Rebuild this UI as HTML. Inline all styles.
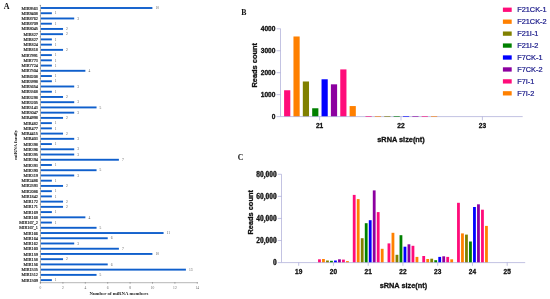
<!DOCTYPE html><html><head><meta charset="utf-8"><title>figure</title><style>html,body{margin:0;padding:0;background:#fff}svg{display:block}text{font-family:"Liberation Serif",serif}.s{font-family:"Liberation Sans",sans-serif}.k{stroke:#111;stroke-width:.3px;stroke-linejoin:round}</style></head><body>
<svg width="550" height="299" viewBox="0 0 550 299">
<rect width="550" height="299" fill="#fff"/>
<text x="3.7" y="8.6" font-size="8" font-weight="bold" fill="#111">A</text>
<g fill="#0f5fcc">
<rect x="40.70" y="7.05" width="111.70" height="1.9"/>
<rect x="40.70" y="12.28" width="11.17" height="1.9"/>
<rect x="40.70" y="17.52" width="33.51" height="1.9"/>
<rect x="40.70" y="22.75" width="11.17" height="1.9"/>
<rect x="40.70" y="27.98" width="22.34" height="1.9"/>
<rect x="40.70" y="33.21" width="22.34" height="1.9"/>
<rect x="40.70" y="38.45" width="11.17" height="1.9"/>
<rect x="40.70" y="43.68" width="11.17" height="1.9"/>
<rect x="40.70" y="48.91" width="22.34" height="1.9"/>
<rect x="40.70" y="54.15" width="11.17" height="1.9"/>
<rect x="40.70" y="59.38" width="11.17" height="1.9"/>
<rect x="40.70" y="64.61" width="11.17" height="1.9"/>
<rect x="40.70" y="69.85" width="44.68" height="1.9"/>
<rect x="40.70" y="75.08" width="11.17" height="1.9"/>
<rect x="40.70" y="80.31" width="11.17" height="1.9"/>
<rect x="40.70" y="85.54" width="33.51" height="1.9"/>
<rect x="40.70" y="90.78" width="11.17" height="1.9"/>
<rect x="40.70" y="96.01" width="22.34" height="1.9"/>
<rect x="40.70" y="101.24" width="33.51" height="1.9"/>
<rect x="40.70" y="106.48" width="55.85" height="1.9"/>
<rect x="40.70" y="111.71" width="33.51" height="1.9"/>
<rect x="40.70" y="116.94" width="22.34" height="1.9"/>
<rect x="40.70" y="122.18" width="11.17" height="1.9"/>
<rect x="40.70" y="127.41" width="11.17" height="1.9"/>
<rect x="40.70" y="132.64" width="22.34" height="1.9"/>
<rect x="40.70" y="137.88" width="33.51" height="1.9"/>
<rect x="40.70" y="143.11" width="11.17" height="1.9"/>
<rect x="40.70" y="148.34" width="33.51" height="1.9"/>
<rect x="40.70" y="153.57" width="33.51" height="1.9"/>
<rect x="40.70" y="158.81" width="78.19" height="1.9"/>
<rect x="40.70" y="164.04" width="11.17" height="1.9"/>
<rect x="40.70" y="169.27" width="55.85" height="1.9"/>
<rect x="40.70" y="174.51" width="33.51" height="1.9"/>
<rect x="40.70" y="179.74" width="11.17" height="1.9"/>
<rect x="40.70" y="184.97" width="22.34" height="1.9"/>
<rect x="40.70" y="190.21" width="11.17" height="1.9"/>
<rect x="40.70" y="195.44" width="11.17" height="1.9"/>
<rect x="40.70" y="200.67" width="22.34" height="1.9"/>
<rect x="40.70" y="205.90" width="22.34" height="1.9"/>
<rect x="40.70" y="211.14" width="11.17" height="1.9"/>
<rect x="40.70" y="216.37" width="44.68" height="1.9"/>
<rect x="40.70" y="221.60" width="11.17" height="1.9"/>
<rect x="40.70" y="226.84" width="55.85" height="1.9"/>
<rect x="40.70" y="232.07" width="122.87" height="1.9"/>
<rect x="40.70" y="237.30" width="67.02" height="1.9"/>
<rect x="40.70" y="242.53" width="33.51" height="1.9"/>
<rect x="40.70" y="247.77" width="78.19" height="1.9"/>
<rect x="40.70" y="253.00" width="111.70" height="1.9"/>
<rect x="40.70" y="258.23" width="22.34" height="1.9"/>
<rect x="40.70" y="263.47" width="67.02" height="1.9"/>
<rect x="40.70" y="268.70" width="145.21" height="1.9"/>
<rect x="40.70" y="273.93" width="55.85" height="1.9"/>
<rect x="40.70" y="279.17" width="11.17" height="1.9"/>
</g>
<g font-size="4.25" fill="#222" stroke="#222" stroke-width=".16" text-anchor="end">
<text x="38.0" y="9.55">MIR9563</text>
<text x="38.0" y="14.78">MIR9408</text>
<text x="38.0" y="20.02">MIR8762</text>
<text x="38.0" y="25.25">MIR8709</text>
<text x="38.0" y="30.48">MIR8045</text>
<text x="38.0" y="35.71">MIR827</text>
<text x="38.0" y="40.95">MIR827</text>
<text x="38.0" y="46.18">MIR824</text>
<text x="38.0" y="51.41">MIR818</text>
<text x="38.0" y="56.65">MIR7991</text>
<text x="38.0" y="61.88">MIR773</text>
<text x="38.0" y="67.11">MIR7724</text>
<text x="38.0" y="72.35">MIR7504</text>
<text x="38.0" y="77.58">MIR6208</text>
<text x="38.0" y="82.81">MIR5998</text>
<text x="38.0" y="88.04">MIR5654</text>
<text x="38.0" y="93.28">MIR5568</text>
<text x="38.0" y="98.51">MIR5298</text>
<text x="38.0" y="103.74">MIR5205</text>
<text x="38.0" y="108.98">MIR5143</text>
<text x="38.0" y="114.21">MIR5047</text>
<text x="38.0" y="119.44">MIR4998</text>
<text x="38.0" y="124.68">MIR482</text>
<text x="38.0" y="129.91">MIR477</text>
<text x="38.0" y="135.14">MIR4415</text>
<text x="38.0" y="140.38">MIR403</text>
<text x="38.0" y="145.61">MIR398</text>
<text x="38.0" y="150.84">MIR396</text>
<text x="38.0" y="156.07">MIR395</text>
<text x="38.0" y="161.31">MIR394</text>
<text x="38.0" y="166.54">MIR393</text>
<text x="38.0" y="171.77">MIR390</text>
<text x="38.0" y="177.01">MIR319</text>
<text x="38.0" y="182.24">MIR2486</text>
<text x="38.0" y="187.47">MIR2593</text>
<text x="38.0" y="192.71">MIR2086</text>
<text x="38.0" y="197.94">MIR1842</text>
<text x="38.0" y="203.17">MIR172</text>
<text x="38.0" y="208.40">MIR171</text>
<text x="38.0" y="213.64">MIR169</text>
<text x="38.0" y="218.87">MIR168</text>
<text x="38.0" y="224.10">MIR167_2</text>
<text x="38.0" y="229.34">MIR167_1</text>
<text x="38.0" y="234.57">MIR166</text>
<text x="38.0" y="239.80">MIR164</text>
<text x="38.0" y="245.03">MIR162</text>
<text x="38.0" y="250.27">MIR160</text>
<text x="38.0" y="255.50">MIR159</text>
<text x="38.0" y="260.73">MIR158</text>
<text x="38.0" y="265.97">MIR156</text>
<text x="38.0" y="271.20">MIR1535</text>
<text x="38.0" y="276.43">MIR1512</text>
<text x="38.0" y="281.67">MIR1509</text>
</g>
<g font-size="3.6" fill="#5a5a5a">
<text x="155.40" y="9.20">10</text>
<text x="54.87" y="14.43">1</text>
<text x="77.21" y="19.67">3</text>
<text x="54.87" y="24.90">1</text>
<text x="66.04" y="30.13">2</text>
<text x="66.04" y="35.37">2</text>
<text x="54.87" y="40.60">1</text>
<text x="54.87" y="45.83">1</text>
<text x="66.04" y="51.06">2</text>
<text x="54.87" y="56.30">1</text>
<text x="54.87" y="61.53">1</text>
<text x="54.87" y="66.76">1</text>
<text x="88.38" y="72.00">4</text>
<text x="54.87" y="77.23">1</text>
<text x="54.87" y="82.46">1</text>
<text x="77.21" y="87.69">3</text>
<text x="54.87" y="92.93">1</text>
<text x="66.04" y="98.16">2</text>
<text x="77.21" y="103.39">3</text>
<text x="99.55" y="108.63">5</text>
<text x="77.21" y="113.86">3</text>
<text x="66.04" y="119.09">2</text>
<text x="54.87" y="124.33">1</text>
<text x="54.87" y="129.56">1</text>
<text x="66.04" y="134.79">2</text>
<text x="77.21" y="140.02">3</text>
<text x="54.87" y="145.26">1</text>
<text x="77.21" y="150.49">3</text>
<text x="77.21" y="155.72">3</text>
<text x="121.89" y="160.96">7</text>
<text x="54.87" y="166.19">1</text>
<text x="99.55" y="171.42">5</text>
<text x="77.21" y="176.66">3</text>
<text x="54.87" y="181.89">1</text>
<text x="66.04" y="187.12">2</text>
<text x="54.87" y="192.35">1</text>
<text x="54.87" y="197.59">1</text>
<text x="66.04" y="202.82">2</text>
<text x="66.04" y="208.05">2</text>
<text x="54.87" y="213.29">1</text>
<text x="88.38" y="218.52">4</text>
<text x="54.87" y="223.75">1</text>
<text x="99.55" y="228.99">5</text>
<text x="166.57" y="234.22">11</text>
<text x="110.72" y="239.45">6</text>
<text x="77.21" y="244.68">3</text>
<text x="121.89" y="249.92">7</text>
<text x="155.40" y="255.15">10</text>
<text x="66.04" y="260.38">2</text>
<text x="110.72" y="265.62">6</text>
<text x="188.91" y="270.85">13</text>
<text x="99.55" y="276.08">5</text>
<text x="54.87" y="281.32">1</text>
</g>
<g stroke="#7c7c7c" stroke-width="0.65" fill="none">
<path d="M40.5 5 V282.7 H197.7" stroke="#909090"/>
<path d="M39.6 5.38H41M39.6 10.62H41M39.6 15.85H41M39.6 21.08H41M39.6 26.32H41M39.6 31.55H41M39.6 36.78H41M39.6 42.01H41M39.6 47.25H41M39.6 52.48H41M39.6 57.71H41M39.6 62.95H41M39.6 68.18H41M39.6 73.41H41M39.6 78.65H41M39.6 83.88H41M39.6 89.11H41M39.6 94.34H41M39.6 99.58H41M39.6 104.81H41M39.6 110.04H41M39.6 115.28H41M39.6 120.51H41M39.6 125.74H41M39.6 130.98H41M39.6 136.21H41M39.6 141.44H41M39.6 146.67H41M39.6 151.91H41M39.6 157.14H41M39.6 162.37H41M39.6 167.61H41M39.6 172.84H41M39.6 178.07H41M39.6 183.31H41M39.6 188.54H41M39.6 193.77H41M39.6 199.00H41M39.6 204.24H41M39.6 209.47H41M39.6 214.70H41M39.6 219.94H41M39.6 225.17H41M39.6 230.40H41M39.6 235.64H41M39.6 240.87H41M39.6 246.10H41M39.6 251.33H41M39.6 256.57H41M39.6 261.80H41M39.6 267.03H41M39.6 272.27H41M39.6 277.50H41M39.6 282.73H41"/>
<path d="M40.50 282.1V283.7M62.90 282.1V283.7M85.30 282.1V283.7M107.70 282.1V283.7M130.10 282.1V283.7M152.50 282.1V283.7M174.90 282.1V283.7M197.30 282.1V283.7"/>
</g>
<g font-size="3.6" fill="#666" text-anchor="middle">
<text x="40.50" y="289.0">0</text>
<text x="62.90" y="289.0">2</text>
<text x="85.30" y="289.0">4</text>
<text x="107.70" y="289.0">6</text>
<text x="130.10" y="289.0">8</text>
<text x="152.50" y="289.0">10</text>
<text x="174.90" y="289.0">12</text>
<text x="197.30" y="289.0">14</text>
</g>
<text x="118.9" y="295" font-size="4.8" font-weight="bold" fill="#222" text-anchor="middle">Number of miRNA members</text>
<text transform="translate(17.4 144.8) rotate(-90)" font-size="4.8" font-weight="bold" fill="#222" text-anchor="middle">miRNA family</text>
<text x="241.2" y="15.2" font-size="7.8" font-weight="bold" fill="#111">B</text>
<rect x="284.10" y="90.26" width="6.2" height="26.34" fill="#ff0c7a"/>
<rect x="293.46" y="36.48" width="6.2" height="80.12" fill="#ff8000"/>
<rect x="302.82" y="81.48" width="6.2" height="35.12" fill="#808000"/>
<rect x="312.18" y="108.26" width="6.2" height="8.34" fill="#008000"/>
<rect x="321.54" y="79.28" width="6.2" height="37.32" fill="#0000ff"/>
<rect x="330.90" y="84.33" width="6.2" height="32.27" fill="#8c00a0"/>
<rect x="340.26" y="69.41" width="6.2" height="47.19" fill="#ff0c7a"/>
<rect x="349.62" y="106.06" width="6.2" height="10.54" fill="#ff8000"/>
<g stroke="#a9a9d6" stroke-width="0.7" fill="none">
<path d="M280.5 28.6V116.6H522.7"/>
<path d="M276.6 116.60H280.5M276.6 94.65H280.5M276.6 72.70H280.5M276.6 50.75H280.5M276.6 28.80H280.5M319.60 116.6V120.39999999999999M401.00 116.6V120.39999999999999M482.40 116.6V120.39999999999999"/>
</g>
<rect x="365.50" y="116.00" width="6.2" height="0.8" fill="#ff0c7a" opacity="0.7"/>
<rect x="374.86" y="116.00" width="6.2" height="0.8" fill="#ff8000" opacity="0.7"/>
<rect x="384.22" y="116.00" width="6.2" height="0.8" fill="#808000" opacity="0.7"/>
<rect x="393.58" y="116.00" width="6.2" height="0.8" fill="#008000" opacity="0.7"/>
<rect x="402.94" y="116.00" width="6.2" height="0.8" fill="#0000ff" opacity="0.7"/>
<rect x="412.30" y="116.00" width="6.2" height="0.8" fill="#8c00a0" opacity="0.7"/>
<rect x="421.66" y="116.00" width="6.2" height="0.8" fill="#ff0c7a" opacity="0.7"/>
<rect x="431.02" y="116.00" width="6.2" height="0.8" fill="#ff8000" opacity="0.7"/>
<g class="s k" font-size="6.6" font-weight="bold" fill="#111">
<text class="s" x="275.4" y="119.00" text-anchor="end">0</text>
<text class="s" x="275.4" y="97.05" text-anchor="end">1000</text>
<text class="s" x="275.4" y="75.10" text-anchor="end">2000</text>
<text class="s" x="275.4" y="53.15" text-anchor="end">3000</text>
<text class="s" x="275.4" y="31.20" text-anchor="end">4000</text>
<text class="s" x="319.60" y="127.9" text-anchor="middle">21</text>
<text class="s" x="401.00" y="127.9" text-anchor="middle">22</text>
<text class="s" x="482.40" y="127.9" text-anchor="middle">23</text>
</g>
<text class="s k" x="401.0" y="142.3" font-size="7.35" font-weight="bold" fill="#111" text-anchor="middle">sRNA size(nt)</text>
<text class="s k" transform="translate(257.0 65.3) rotate(-90)" font-size="7.45" font-weight="bold" fill="#111" text-anchor="middle">Reads count</text>
<rect x="502.9" y="7.60" width="8.8" height="4.3" fill="#ff0c7a"/>
<text class="s" x="517.2" y="12.45" font-size="7.35" fill="#1a1a8a" stroke="#1a1a8a" stroke-width=".22">F21CK-1</text>
<rect x="502.9" y="19.54" width="8.8" height="4.3" fill="#ff8000"/>
<text class="s" x="517.2" y="24.39" font-size="7.35" fill="#1a1a8a" stroke="#1a1a8a" stroke-width=".22">F21CK-2</text>
<rect x="502.9" y="31.48" width="8.8" height="4.3" fill="#808000"/>
<text class="s" x="517.2" y="36.33" font-size="7.35" fill="#1a1a8a" stroke="#1a1a8a" stroke-width=".22">F21I-1</text>
<rect x="502.9" y="43.42" width="8.8" height="4.3" fill="#008000"/>
<text class="s" x="517.2" y="48.27" font-size="7.35" fill="#1a1a8a" stroke="#1a1a8a" stroke-width=".22">F21I-2</text>
<rect x="502.9" y="55.36" width="8.8" height="4.3" fill="#0000ff"/>
<text class="s" x="517.2" y="60.21" font-size="7.35" fill="#1a1a8a" stroke="#1a1a8a" stroke-width=".22">F7CK-1</text>
<rect x="502.9" y="67.30" width="8.8" height="4.3" fill="#8c00a0"/>
<text class="s" x="517.2" y="72.15" font-size="7.35" fill="#1a1a8a" stroke="#1a1a8a" stroke-width=".22">F7CK-2</text>
<rect x="502.9" y="79.24" width="8.8" height="4.3" fill="#ff0c7a"/>
<text class="s" x="517.2" y="84.09" font-size="7.35" fill="#1a1a8a" stroke="#1a1a8a" stroke-width=".22">F7I-1</text>
<rect x="502.9" y="91.18" width="8.8" height="4.3" fill="#ff8000"/>
<text class="s" x="517.2" y="96.03" font-size="7.35" fill="#1a1a8a" stroke="#1a1a8a" stroke-width=".22">F7I-2</text>
<text x="237.7" y="160.2" font-size="7.8" font-weight="bold" fill="#111">C</text>
<rect x="318.05" y="259.30" width="2.8" height="3.30" fill="#ff0c7a"/>
<rect x="322.05" y="259.00" width="2.8" height="3.60" fill="#ff8000"/>
<rect x="326.05" y="260.50" width="2.8" height="2.10" fill="#808000"/>
<rect x="330.05" y="260.80" width="2.8" height="1.80" fill="#008000"/>
<rect x="334.05" y="260.50" width="2.8" height="2.10" fill="#0000ff"/>
<rect x="338.05" y="259.30" width="2.8" height="3.30" fill="#8c00a0"/>
<rect x="342.05" y="259.60" width="2.8" height="3.00" fill="#ff0c7a"/>
<rect x="346.05" y="261.10" width="2.8" height="1.50" fill="#ff8000"/>
<rect x="352.80" y="194.90" width="2.8" height="67.70" fill="#ff0c7a"/>
<rect x="356.80" y="199.10" width="2.8" height="63.50" fill="#ff8000"/>
<rect x="360.80" y="238.20" width="2.8" height="24.40" fill="#808000"/>
<rect x="364.80" y="223.20" width="2.8" height="39.40" fill="#008000"/>
<rect x="368.80" y="220.20" width="2.8" height="42.40" fill="#0000ff"/>
<rect x="372.80" y="190.40" width="2.8" height="72.20" fill="#8c00a0"/>
<rect x="376.80" y="212.10" width="2.8" height="50.50" fill="#ff0c7a"/>
<rect x="380.80" y="248.80" width="2.8" height="13.80" fill="#ff8000"/>
<rect x="387.55" y="243.40" width="2.8" height="19.20" fill="#ff0c7a"/>
<rect x="391.55" y="232.80" width="2.8" height="29.80" fill="#ff8000"/>
<rect x="395.55" y="254.80" width="2.8" height="7.80" fill="#808000"/>
<rect x="399.55" y="235.20" width="2.8" height="27.40" fill="#008000"/>
<rect x="403.55" y="246.70" width="2.8" height="15.90" fill="#0000ff"/>
<rect x="407.55" y="244.30" width="2.8" height="18.30" fill="#8c00a0"/>
<rect x="411.55" y="245.80" width="2.8" height="16.80" fill="#ff0c7a"/>
<rect x="415.55" y="256.90" width="2.8" height="5.70" fill="#ff8000"/>
<rect x="422.30" y="256.00" width="2.8" height="6.60" fill="#ff0c7a"/>
<rect x="426.30" y="259.00" width="2.8" height="3.60" fill="#ff8000"/>
<rect x="430.30" y="258.70" width="2.8" height="3.90" fill="#808000"/>
<rect x="434.30" y="260.20" width="2.8" height="2.40" fill="#008000"/>
<rect x="438.30" y="256.90" width="2.8" height="5.70" fill="#0000ff"/>
<rect x="442.30" y="256.30" width="2.8" height="6.30" fill="#8c00a0"/>
<rect x="446.30" y="256.90" width="2.8" height="5.70" fill="#ff0c7a"/>
<rect x="450.30" y="259.30" width="2.8" height="3.30" fill="#ff8000"/>
<rect x="457.05" y="202.80" width="2.8" height="59.80" fill="#ff0c7a"/>
<rect x="461.05" y="233.40" width="2.8" height="29.20" fill="#ff8000"/>
<rect x="465.05" y="234.60" width="2.8" height="28.00" fill="#808000"/>
<rect x="469.05" y="241.50" width="2.8" height="21.10" fill="#008000"/>
<rect x="473.05" y="207.00" width="2.8" height="55.60" fill="#0000ff"/>
<rect x="477.05" y="204.30" width="2.8" height="58.30" fill="#8c00a0"/>
<rect x="481.05" y="209.70" width="2.8" height="52.90" fill="#ff0c7a"/>
<rect x="485.05" y="225.90" width="2.8" height="36.70" fill="#ff8000"/>
<g stroke="#a9a9d6" stroke-width="0.7" fill="none">
<path d="M281.5 174.3V262.6H525.2"/>
<path d="M277.8 262.60H281.5M277.8 240.52H281.5M277.8 218.44H281.5M277.8 196.36H281.5M277.8 174.28H281.5M298.70 262.6V265.8M333.45 262.6V265.8M368.20 262.6V265.8M402.95 262.6V265.8M437.70 262.6V265.8M472.45 262.6V265.8M507.20 262.6V265.8"/>
</g>
<g class="k" font-size="7.4" font-weight="bold" fill="#111" text-anchor="end">
<text x="276.6" y="264.90">0</text>
<text x="276.6" y="242.82">20,000</text>
<text x="276.6" y="220.74">40,000</text>
<text x="276.6" y="198.66">60,000</text>
<text x="276.6" y="176.58">80,000</text>
</g>
<g class="k" font-size="6.5" font-weight="bold" fill="#111" text-anchor="middle">
<text class="s" x="298.70" y="273.7">19</text>
<text class="s" x="333.45" y="273.7">20</text>
<text class="s" x="368.20" y="273.7">21</text>
<text class="s" x="402.95" y="273.7">22</text>
<text class="s" x="437.70" y="273.7">23</text>
<text class="s" x="472.45" y="273.7">24</text>
<text class="s" x="507.20" y="273.7">25</text>
</g>
<text class="s k" x="403.4" y="288.4" font-size="7.35" font-weight="bold" fill="#111" text-anchor="middle">sRNA size(nt)</text>
<text class="s k" transform="translate(253.2 212.3) rotate(-90)" font-size="7.4" font-weight="bold" fill="#111" text-anchor="middle">Reads count</text>
</svg></body></html>
